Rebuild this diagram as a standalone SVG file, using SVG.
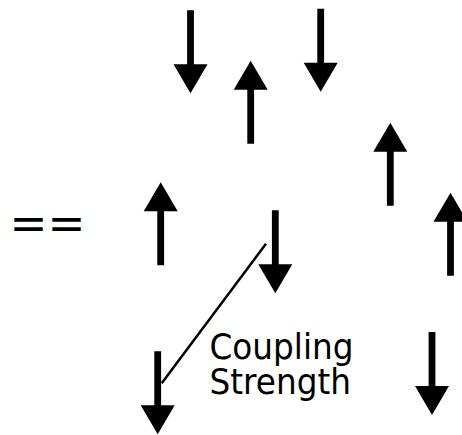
<svg xmlns="http://www.w3.org/2000/svg" xmlns:xlink="http://www.w3.org/1999/xlink" width="462" height="435" viewBox="0 0 462 435">
<style>
.spin{fill:#000;stroke:none}
.lbl{font-family:"DejaVu Sans",sans-serif;fill:#000}
.conn{stroke:#000;stroke-width:2.5;fill:none}
</style>
<defs>
<path id="up" class="spin" d="M0,0 L17,29 L3.4,29 L3.4,83 L-3.4,83 L-3.4,29 L-17,29 Z"/>
</defs>
<rect width="462" height="435" fill="#fff"/>
<g id="connectors">
<line class="conn" x1="266" y1="243.7" x2="161.7" y2="383.3"/>
</g>
<g id="spin1"><use xlink:href="#up" transform="translate(190.5,93.3) scale(1,-1)"/></g>
<g id="spin2"><use xlink:href="#up" transform="translate(250.7,60.7)"/></g>
<g id="spin3"><use xlink:href="#up" transform="translate(320.7,91.7) scale(1,-1)"/></g>
<g id="spin4"><use xlink:href="#up" transform="translate(160.7,182.3)"/></g>
<g id="spin5"><use xlink:href="#up" transform="translate(390.3,122.7)"/></g>
<g id="spin6"><use xlink:href="#up" transform="translate(450.5,192.7)"/></g>
<g id="spin7"><use xlink:href="#up" transform="translate(275.3,293.3) scale(1,-1)"/></g>
<g id="spin8"><use xlink:href="#up" transform="translate(157.7,434.3) scale(1,-1)"/></g>
<g id="spin9"><use xlink:href="#up" transform="translate(432,415) scale(1,-1)"/></g>
<g id="equals"><text class="lbl" x="9.5" y="239" font-size="46" textLength="76" lengthAdjust="spacingAndGlyphs">==</text></g>
<g id="label">
<text class="lbl" x="209.5" y="359.3" font-size="35" textLength="144" lengthAdjust="spacingAndGlyphs">Coupling</text>
<text class="lbl" x="209.5" y="394.3" font-size="35" textLength="141.5" lengthAdjust="spacingAndGlyphs">Strength</text>
</g>
</svg>
